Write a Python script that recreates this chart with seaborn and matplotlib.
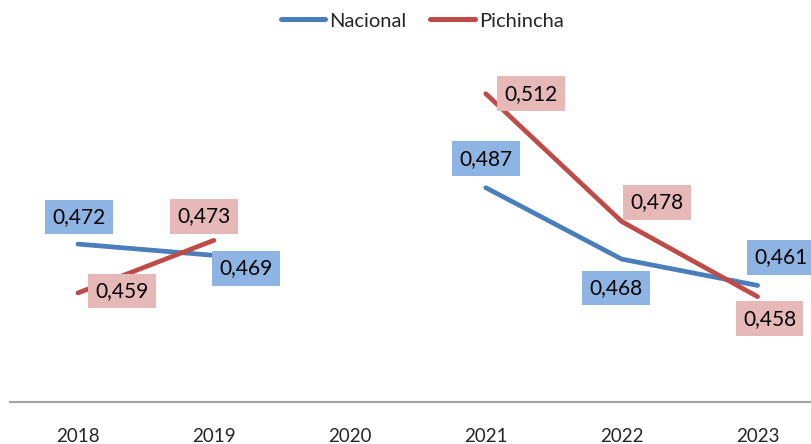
import matplotlib
matplotlib.use("Agg")
import matplotlib.pyplot as plt
import seaborn as sns
import numpy as np
import pandas as pd

years = ["2018", "2019", "2020", "2021", "2022", "2023"]
nacional = [0.472, 0.469, np.nan, 0.487, 0.468, 0.461]
pichincha = [0.459, 0.473, np.nan, 0.512, 0.478, 0.458]
series_names = ["Nacional", "Pichincha"]

line_colors = {"Nacional": "#4A7EBB", "Pichincha": "#BE4B48"}
box_colors = {"Nacional": "#8DB4E2", "Pichincha": "#E6B9B8"}

# label offsets in pixels (dx, dy) for each point
offsets = {
    "Nacional": [(1, 27), (32, -13), None, (0, 29), (-6, -29), (23, 28)],
    "Pichincha": [(44, 2), (-10, 24), None, (45, 0), (35, 19), (12, -22)],
}

rows = []
for name, vals in zip(series_names, [nacional, pichincha]):
    seg = 0
    for i, (y, v) in enumerate(zip(years, vals)):
        if np.isnan(v):
            seg += 1
            continue
        rows.append({"pos": i, "year": y, "value": v, "serie": name, "segment": f"{name}-{seg}"})
df = pd.DataFrame(rows)

sns.set_style("white")
plt.rcParams["font.family"] = ["Lato", "DejaVu Sans"]

fig = plt.figure(figsize=(8.12, 4.44), dpi=100)
ax = fig.add_axes([10 / 812, 42 / 444, 802 / 812, (402 - 63.6) / 444])

sns.lineplot(data=df, x="pos", y="value", hue="serie", units="segment", estimator=None,
             palette=line_colors, linewidth=3.4, ax=ax, legend=True, solid_capstyle="round")

for name, vals in zip(series_names, [nacional, pichincha]):
    for i, v in enumerate(vals):
        if np.isnan(v):
            continue
        dx, dy = offsets[name][i]
        ax.annotate(f"{v:.3f}".replace(".", ","), xy=(i, v), xytext=(dx, dy),
                    textcoords="offset pixels", ha="center", va="center",
                    fontsize=15, color="black",
                    bbox=dict(boxstyle="square,pad=0.35", fc=box_colors[name], ec="none"),
                    annotation_clip=False, zorder=5)

ax.set_xlim(-0.5, 5.4)
ax.set_ylim(0.43, 0.52)
ax.set_xticks(range(len(years)))
ax.set_xticklabels(years, fontsize=13.5)
ax.set_yticks([])
ax.set_xlabel("")
ax.set_ylabel("")
ax.tick_params(axis="x", length=0, pad=19)
for s in ["top", "left", "right"]:
    ax.spines[s].set_visible(False)
ax.spines["bottom"].set_color("#A6A6A6")
ax.spines["bottom"].set_linewidth(1.6)

handles, labels = ax.get_legend_handles_labels()
for h in handles:
    h.set_linewidth(3.6)
ax.legend(handles, labels, loc="center", bbox_to_anchor=(422 / 812, 1 - 21 / 444),
          bbox_transform=fig.transFigure, ncol=2, frameon=False, fontsize=14.5,
          handlelength=2.2, handletextpad=0.2, columnspacing=1.2)

fig.savefig("out.png", dpi=100)
